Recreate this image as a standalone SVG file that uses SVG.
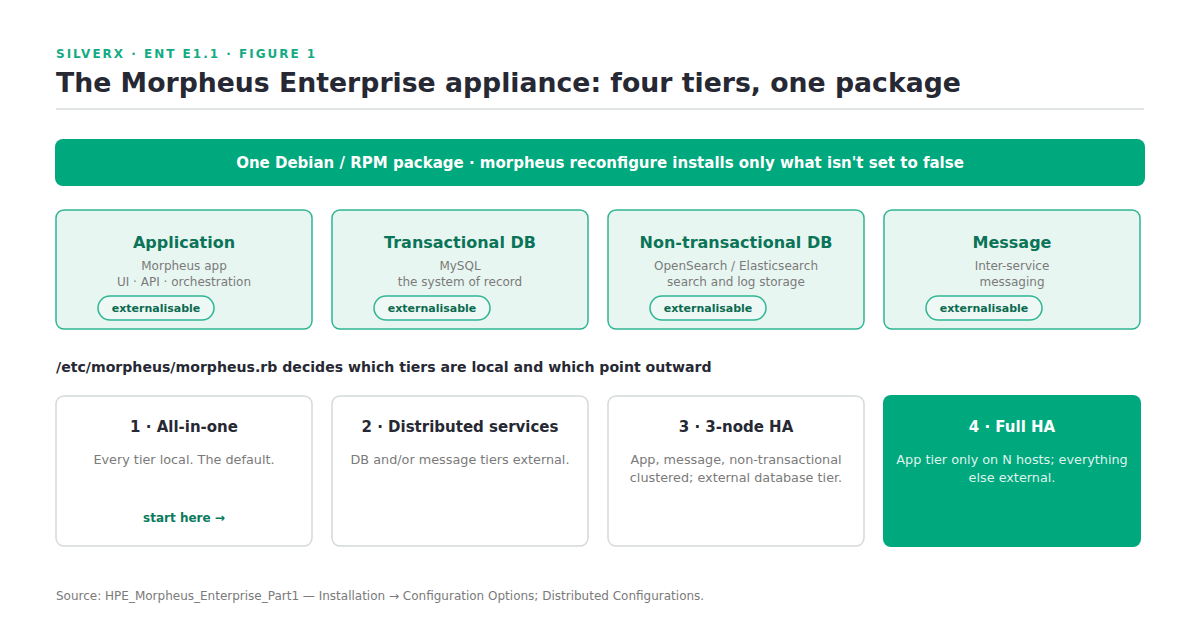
<svg xmlns="http://www.w3.org/2000/svg" width="1200" height="630" viewBox="0 0 1200 630">
<style>
text{font-family:"DejaVu Sans","Liberation Sans",sans-serif}
.eyebrow{font-size:12px;font-weight:bold;fill:#14ab84;letter-spacing:2px}
.title{font-size:26.7px;font-weight:bold;fill:#262833}
.banner{font-size:15px;font-weight:bold;fill:#ffffff}
.tier{fill:#e8f6f1;stroke:#2fb592;stroke-width:1.5}
.tt{font-size:16px;font-weight:bold;fill:#0b7458;text-anchor:middle}
.ts{font-size:12px;fill:#7a7a7a;text-anchor:middle}
.pill{fill:#eef9f5;stroke:#2fb592;stroke-width:1.5}
.pt{font-size:11px;font-weight:bold;fill:#0b6a50;text-anchor:middle}
.sec{font-size:14.1px;font-weight:bold;fill:#262833}
.opt{fill:#ffffff;stroke:#d5d9d9;stroke-width:1.5}
.optg{fill:#00a87e}
.ot{font-size:15px;font-weight:bold;fill:#262833;text-anchor:middle}
.od{font-size:12.8px;fill:#7a7a7a;text-anchor:middle}
.ow{fill:#ffffff}
.owd{fill:#dff3ec}
.start{font-size:12px;font-weight:bold;fill:#0b7a5c;text-anchor:middle}
.foot{font-size:12px;fill:#7a7a7a}
</style>
<rect width="1200" height="630" fill="#ffffff"/>
<text class="eyebrow" x="56" y="58">SILVERX · ENT E1.1 · FIGURE 1</text>
<text class="title" x="56" y="92">The Morpheus Enterprise appliance: four tiers, one package</text>
<rect x="56" y="108" width="1088" height="2" fill="#e1e5e5"/>
<g id="banner">
<rect x="55" y="139" width="1090" height="47" rx="8" fill="#00a87e"/>
<text class="banner" x="600" y="167.5" text-anchor="middle">One Debian / RPM package · morpheus reconfigure installs only what isn't set to false</text>
</g>
<g id="tier-application">
<rect class="tier" x="56" y="210" width="256" height="119" rx="8"/>
<text class="tt" x="184" y="248">Application</text>
<text class="ts" x="184" y="270">Morpheus app</text>
<text class="ts" x="184" y="286">UI · API · orchestration</text>
<rect class="pill" x="98" y="296" width="116" height="24" rx="12"/>
<text class="pt" x="156" y="312">externalisable</text>
</g>
<g id="tier-transactional">
<rect class="tier" x="332" y="210" width="256" height="119" rx="8"/>
<text class="tt" x="460" y="248">Transactional DB</text>
<text class="ts" x="460" y="270">MySQL</text>
<text class="ts" x="460" y="286">the system of record</text>
<rect class="pill" x="374" y="296" width="116" height="24" rx="12"/>
<text class="pt" x="432" y="312">externalisable</text>
</g>
<g id="tier-nontransactional">
<rect class="tier" x="608" y="210" width="256" height="119" rx="8"/>
<text class="tt" x="736" y="248">Non-transactional DB</text>
<text class="ts" x="736" y="270">OpenSearch / Elasticsearch</text>
<text class="ts" x="736" y="286">search and log storage</text>
<rect class="pill" x="650" y="296" width="116" height="24" rx="12"/>
<text class="pt" x="708" y="312">externalisable</text>
</g>
<g id="tier-message">
<rect class="tier" x="884" y="210" width="256" height="119" rx="8"/>
<text class="tt" x="1012" y="248">Message</text>
<text class="ts" x="1012" y="270">Inter-service</text>
<text class="ts" x="1012" y="286">messaging</text>
<rect class="pill" x="926" y="296" width="116" height="24" rx="12"/>
<text class="pt" x="984" y="312">externalisable</text>
</g>
<text class="sec" x="56" y="372">/etc/morpheus/morpheus.rb decides which tiers are local and which point outward</text>
<g id="opt-1">
<rect class="opt" x="56" y="396" width="256" height="150" rx="8"/>
<text class="ot" x="184" y="432">1 · All-in-one</text>
<text class="od" x="184" y="464">Every tier local. The default.</text>
<text class="start" x="184" y="522">start here →</text>
</g>
<g id="opt-2">
<rect class="opt" x="332" y="396" width="256" height="150" rx="8"/>
<text class="ot" x="460" y="432">2 · Distributed services</text>
<text class="od" x="460" y="464">DB and/or message tiers external.</text>
</g>
<g id="opt-3">
<rect class="opt" x="608" y="396" width="256" height="150" rx="8"/>
<text class="ot" x="736" y="432">3 · 3-node HA</text>
<text class="od" x="736" y="464">App, message, non-transactional</text>
<text class="od" x="736" y="482">clustered; external database tier.</text>
</g>
<g id="opt-4">
<rect class="optg" x="883" y="395" width="258" height="152" rx="8"/>
<text class="ot ow" x="1012" y="432">4 · Full HA</text>
<text class="od owd" x="1012" y="464">App tier only on N hosts; everything</text>
<text class="od owd" x="1012" y="482">else external.</text>
</g>
<g id="connectors"></g>
<text class="foot" x="56" y="600">Source: HPE_Morpheus_Enterprise_Part1 — Installation → Configuration Options; Distributed Configurations.</text>
</svg>
